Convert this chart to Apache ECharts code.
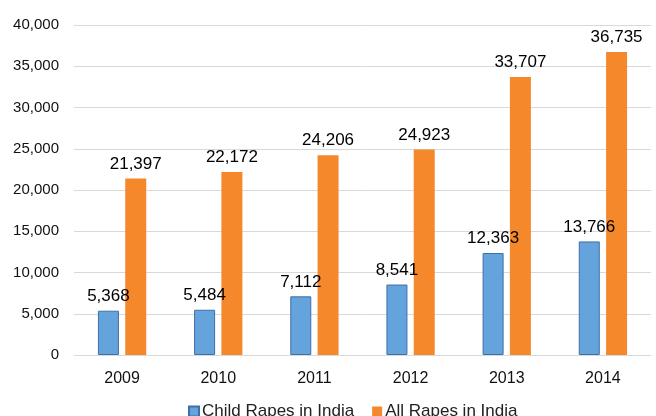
<!DOCTYPE html>
<html><head><meta charset="utf-8">
<script src="https://cdn.jsdelivr.net/npm/echarts@6/dist/echarts.min.js"></script>
<style>html,body{margin:0;padding:0;background:#fff}#c{width:656px;height:416px}</style>
</head><body><div id="c"></div>
<script>
var categories = ['2009','2010','2011','2012','2013','2014'];
var childRapes = [5368,5484,7112,8541,12363,13766];
var allRapes = [21397,22172,24206,24923,33707,36735];
var seriesNames = ['Child Rapes in India','All Rapes in India'];

var chart = echarts.init(document.getElementById('c'));
var fmt = function(v){return v.toLocaleString('en-US');};
var lbl = {show:true,position:'top',distance:6,color:'#000',fontFamily:'Liberation Sans, Arial',fontSize:17,formatter:function(p){return fmt(p.value);}};
chart.setOption({
  animation:false,
  grid:{left:74,right:5,top:25,bottom:61},
  legend:{bottom:-9,left:183,itemWidth:10,itemHeight:10,itemGap:18,icon:'rect',
    textStyle:{fontFamily:'Liberation Sans, Arial',fontSize:17,color:'#222',padding:[0,0,0,-2]},data:seriesNames},
  xAxis:{type:'category',data:categories,axisTick:{show:false},axisLine:{show:false},
    axisLabel:{fontFamily:'Liberation Sans, Arial',fontSize:16,color:'#111',margin:16}},
  yAxis:{type:'value',min:0,max:40000,interval:5000,axisLine:{show:false},axisTick:{show:false},
    splitLine:{lineStyle:{color:'#d9d9d9',width:1}},
    axisLabel:{fontFamily:'Liberation Sans, Arial',fontSize:15,color:'#111',margin:15,formatter:function(v){return fmt(v);}}},
  series:[
    {name:seriesNames[0],type:'bar',data:childRapes,barWidth:21,barGap:'30%',
      itemStyle:{color:'#65A3DC',borderColor:'#3F6FA8',borderWidth:1},label:lbl},
    {name:seriesNames[1],type:'bar',data:allRapes,barWidth:21,
      itemStyle:{color:'#F5882B'},label:lbl}
  ]
});
</script></body></html>
